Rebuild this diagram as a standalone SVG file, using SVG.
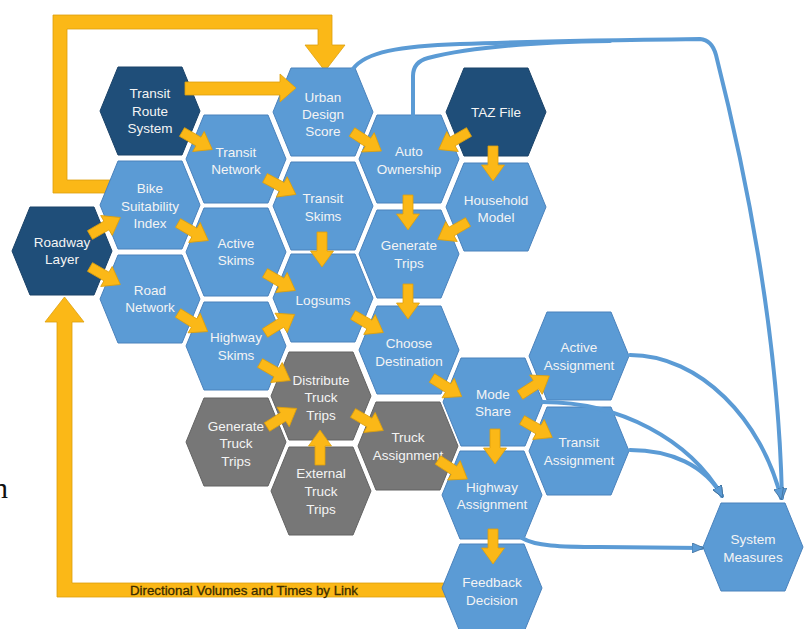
<svg xmlns="http://www.w3.org/2000/svg" xmlns:xlink="http://www.w3.org/1999/xlink" width="807" height="629" viewBox="0 0 807 629">
<style>
.b{fill:#5B9BD5;stroke:#4A82BC;stroke-width:1}
.d{fill:#1F4E79;stroke:#1A4268;stroke-width:1}
.g{fill:#777777;stroke:#636363;stroke-width:1}
.t{font-family:"Liberation Sans",Arial,sans-serif;font-size:13.5px;fill:#F4F4F4;text-anchor:middle}
.y{fill:#FBB817;stroke:#DDA00C;stroke-width:0.8}
.c{fill:none;stroke:#5B9BD5;stroke-width:4;stroke-linecap:round}
.lbl{font-family:"Liberation Sans",Arial,sans-serif;font-size:12.5px;fill:#3A2C00;stroke:#3A2C00;stroke-width:0.3}
</style>
<defs>
<path id="hex" d="M-50,0 L-32,-44 L32,-44 L50,0 L32,44 L-32,44 Z"/>
<path id="ya" d="M0,-5 H19 V-11.5 L35,0 L19,11.5 V5 H0 Z"/>
<marker id="ah" viewBox="0 0 12 10" refX="10" refY="5" markerWidth="12" markerHeight="10" markerUnits="userSpaceOnUse" orient="auto">
<path d="M0,0 L12,5 L0,10 Z" fill="#5B9BD5" stroke="#41719C" stroke-width="0.8"/>
</marker>
</defs>
<rect width="807" height="629" fill="#FFFFFF"/>
<text x="-7" y="498" font-family="'Liberation Serif',serif" font-size="30" fill="#111">n</text>

<g id="loops">
<path class="y" d="M112,180 L67,180 L67,29 L318,29 L318,45 L305,45 L325,71 L345,45 L332,45 L332,15 L53,15 L53,193 L112,193 Z"/>
<path class="y" d="M446,583 L72,583 L72,322 L84,322 L64.5,297 L45,322 L57,322 L57,597 L446,597 Z"/>
<text class="lbl" x="130" y="594.5" textLength="228" lengthAdjust="spacingAndGlyphs">Directional Volumes and Times by Link</text>
</g>

<g id="n-trs"><use href="#hex" x="150" y="111" class="d"/><text class="t"><tspan x="150" y="98">Transit</tspan><tspan x="150" y="116">Route</tspan><tspan x="150" y="133">System</tspan></text></g>
<g id="n-uds"><use href="#hex" x="323" y="112" class="b"/><text class="t"><tspan x="323" y="102">Urban</tspan><tspan x="323" y="119">Design</tspan><tspan x="323" y="136">Score</tspan></text></g>
<g id="n-taz"><use href="#hex" x="496" y="112" class="d"/><text class="t"><tspan x="496" y="117">TAZ File</tspan></text></g>
<g id="n-tn"><use href="#hex" x="236" y="159" class="b"/><text class="t"><tspan x="236" y="157">Transit</tspan><tspan x="236" y="174">Network</tspan></text></g>
<g id="n-ao"><use href="#hex" x="409" y="159" class="b"/><text class="t"><tspan x="409" y="156">Auto</tspan><tspan x="409" y="174">Ownership</tspan></text></g>
<g id="n-bsi"><use href="#hex" x="150" y="205" class="b"/><text class="t"><tspan x="150" y="193">Bike</tspan><tspan x="150" y="211">Suitability</tspan><tspan x="150" y="228">Index</tspan></text></g>
<g id="n-ts"><use href="#hex" x="323" y="206" class="b"/><text class="t"><tspan x="323" y="203">Transit</tspan><tspan x="323" y="221">Skims</tspan></text></g>
<g id="n-hm"><use href="#hex" x="496" y="207" class="b"/><text class="t"><tspan x="496" y="205">Household</tspan><tspan x="496" y="222">Model</tspan></text></g>
<g id="n-rl"><use href="#hex" x="62" y="251" class="d"/><text class="t"><tspan x="62" y="247">Roadway</tspan><tspan x="62" y="264">Layer</tspan></text></g>
<g id="n-as"><use href="#hex" x="236" y="252" class="b"/><text class="t"><tspan x="236" y="248">Active</tspan><tspan x="236" y="265">Skims</tspan></text></g>
<g id="n-gt"><use href="#hex" x="409" y="254" class="b"/><text class="t"><tspan x="409" y="250">Generate</tspan><tspan x="409" y="268">Trips</tspan></text></g>
<g id="n-rn"><use href="#hex" x="150" y="299" class="b"/><text class="t"><tspan x="150" y="295">Road</tspan><tspan x="150" y="312">Network</tspan></text></g>
<g id="n-ls"><use href="#hex" x="323" y="298" class="b"/><text class="t"><tspan x="323" y="305">Logsums</tspan></text></g>
<g id="n-hs"><use href="#hex" x="236" y="346" class="b"/><text class="t"><tspan x="236" y="342">Highway</tspan><tspan x="236" y="360">Skims</tspan></text></g>
<g id="n-cd"><use href="#hex" x="409" y="350" class="b"/><text class="t"><tspan x="409" y="348">Choose</tspan><tspan x="409" y="366">Destination</tspan></text></g>
<g id="n-aa"><use href="#hex" x="579" y="356" class="b"/><text class="t"><tspan x="579" y="352">Active</tspan><tspan x="579" y="370">Assignment</tspan></text></g>
<g id="n-dtt"><use href="#hex" x="321" y="396" class="g"/><text class="t"><tspan x="321" y="385">Distribute</tspan><tspan x="321" y="402">Truck</tspan><tspan x="321" y="420">Trips</tspan></text></g>
<g id="n-ms"><use href="#hex" x="493" y="402" class="b"/><text class="t"><tspan x="493" y="399">Mode</tspan><tspan x="493" y="416">Share</tspan></text></g>
<g id="n-gtt"><use href="#hex" x="236" y="442" class="g"/><text class="t"><tspan x="236" y="431">Generate</tspan><tspan x="236" y="448">Truck</tspan><tspan x="236" y="466">Trips</tspan></text></g>
<g id="n-ta"><use href="#hex" x="408" y="446" class="g"/><text class="t"><tspan x="408" y="442">Truck</tspan><tspan x="408" y="460">Assignment</tspan></text></g>
<g id="n-tra"><use href="#hex" x="579" y="451" class="b"/><text class="t"><tspan x="579" y="447">Transit</tspan><tspan x="579" y="465">Assignment</tspan></text></g>
<g id="n-ett"><use href="#hex" x="321" y="491" class="g"/><text class="t"><tspan x="321" y="478">External</tspan><tspan x="321" y="496">Truck</tspan><tspan x="321" y="514">Trips</tspan></text></g>
<g id="n-ha"><use href="#hex" x="492" y="495" class="b"/><text class="t"><tspan x="492" y="492">Highway</tspan><tspan x="492" y="509">Assignment</tspan></text></g>
<g id="n-fd"><use href="#hex" x="492" y="588" class="b"/><text class="t"><tspan x="492" y="587">Feedback</tspan><tspan x="492" y="605">Decision</tspan></text></g>
<g id="n-sm"><use href="#hex" x="753" y="547" class="b"/><text class="t"><tspan x="753" y="544">System</tspan><tspan x="753" y="562">Measures</tspan></text></g>

<g id="connectors">
<path class="y" d="M185,82 L280,82 L280,74 L296,88 L280,102 L280,95 L185,95 Z"/>
<use href="#ya" class="y" transform="translate(182,132) rotate(30)"/>
<use href="#ya" class="y" transform="translate(352,132) rotate(33)"/>
<use href="#ya" class="y" transform="translate(469,132) rotate(150)"/>
<use href="#ya" class="y" transform="translate(265,178) rotate(28)"/>
<use href="#ya" class="y" transform="translate(178,223) rotate(30)"/>
<use href="#ya" class="y" transform="translate(90,235) rotate(-30)"/>
<use href="#ya" class="y" transform="translate(90,267) rotate(30)"/>
<use href="#ya" class="y" transform="translate(322,232) rotate(90)"/>
<use href="#ya" class="y" transform="translate(265,273) rotate(30)"/>
<use href="#ya" class="y" transform="translate(408,195) rotate(90)"/>
<use href="#ya" class="y" transform="translate(468,222) rotate(150)"/>
<use href="#ya" class="y" transform="translate(493,146) rotate(90)"/>
<use href="#ya" class="y" transform="translate(408,284) rotate(90)"/>
<use href="#ya" class="y" transform="translate(178,313) rotate(32)"/>
<use href="#ya" class="y" transform="translate(265,333) rotate(-32)"/>
<use href="#ya" class="y" transform="translate(353,315) rotate(30)"/>
<use href="#ya" class="y" transform="translate(260,363) rotate(30)"/>
<use href="#ya" class="y" transform="translate(267,427) rotate(-32)"/>
<use href="#ya" class="y" transform="translate(320,465) rotate(-90)"/>
<use href="#ya" class="y" transform="translate(353,413) rotate(30)"/>
<use href="#ya" class="y" transform="translate(432,378) rotate(32)"/>
<use href="#ya" class="y" transform="translate(438,460) rotate(33)"/>
<use href="#ya" class="y" transform="translate(495,429) rotate(90)"/>
<use href="#ya" class="y" transform="translate(520,395) rotate(-33)"/>
<use href="#ya" class="y" transform="translate(522,420) rotate(30)"/>
<use href="#ya" class="y" transform="translate(493,529) rotate(90)"/>

<path class="c" d="M413,116 L413,76 Q413,62 428,58 C 470,47 540,42 610,41"/>
<path class="c" marker-end="url(#ah)" d="M353,69 C 365,52 400,46 460,44 C 540,41 620,40 700,39 Q 712,40 716,55 C 740,150 778,320 782,498"/>
<path class="c" marker-end="url(#ah)" d="M630,355 C 700,355 762,420 781,498"/>
<path class="c" marker-end="url(#ah)" d="M543,402 C 620,402 690,440 722,496"/>
<path class="c" marker-end="url(#ah)" d="M630,450 C 670,450 705,465 722,496"/>
<path class="c" marker-end="url(#ah)" d="M522,538 C 535,546 560,547 600,547 L 702,548"/>
</g>
</svg>
